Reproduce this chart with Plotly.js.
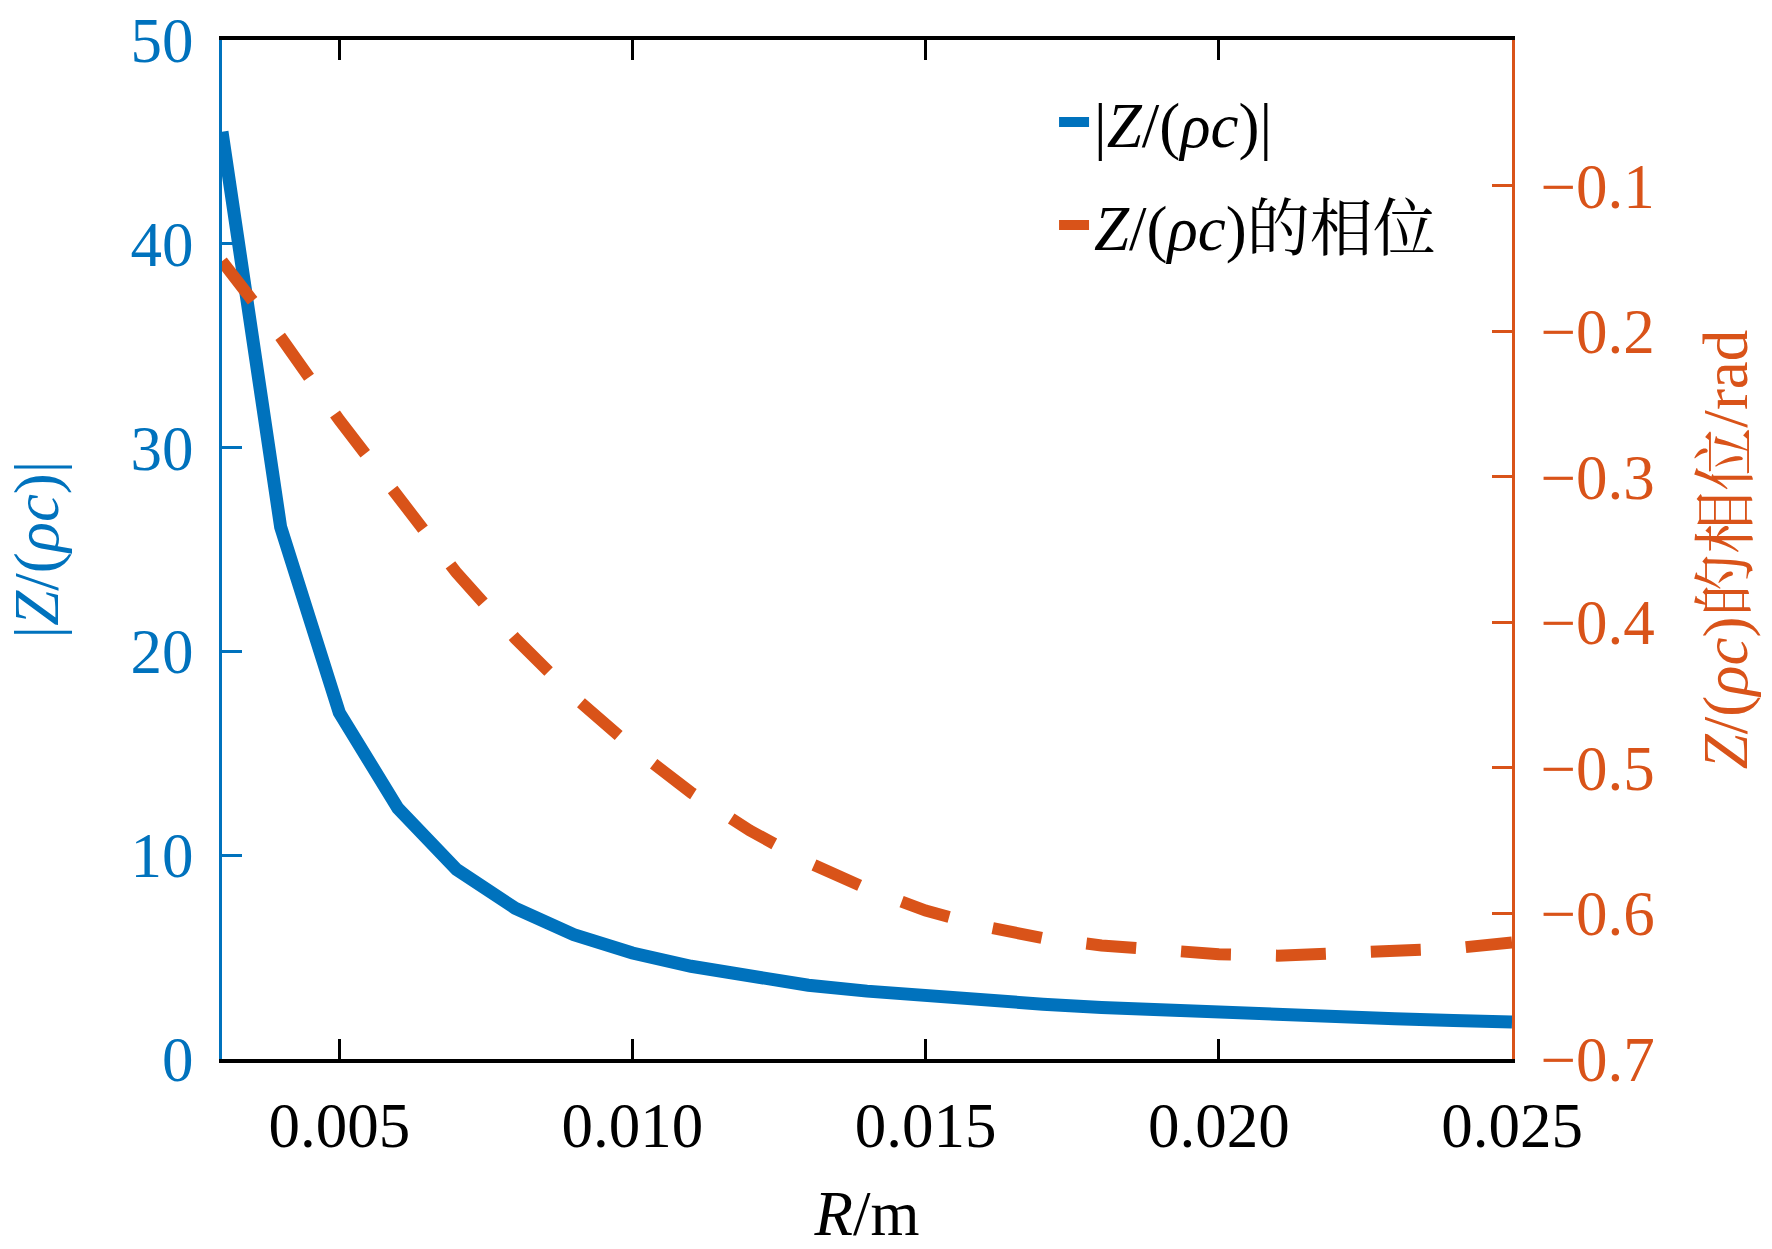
<!DOCTYPE html>
<html>
<head>
<meta charset="utf-8">
<script src="https://cdn.plot.ly/plotly-3.0.1.min.js"></script>
<style>
  html, body { margin: 0; padding: 0; background: #fff; }
  #chart { width: 1772px; height: 1249px; }
</style>
</head>
<body>
<div id="chart"></div>
<script>
// radius R in metres
const radius = [0.003, 0.004, 0.005, 0.006, 0.007, 0.008, 0.009, 0.010, 0.011, 0.012,
    0.013, 0.014, 0.015, 0.016, 0.017, 0.018, 0.019, 0.020, 0.021, 0.022,
    0.023, 0.024, 0.025]

// |Z/(rho c)|
const magnitude = [45.5, 26.1, 17.0, 12.3, 9.3, 7.4, 6.1, 5.2, 4.55, 4.02,
    3.62, 3.33, 3.08, 2.87, 2.69, 2.53, 2.39, 2.27, 2.16, 2.06,
    1.97, 1.89, 1.82]

// phase of Z/(rho c), rad
const phase = [-0.152, -0.204, -0.261, -0.315, -0.366, -0.411, -0.451, -0.486, -0.517, -0.543,
    -0.565, -0.583, -0.598, -0.609, -0.617, -0.622, -0.626, -0.628, -0.629, -0.628,
    -0.627, -0.624, -0.620]

const xTicks = [0.005, 0.010, 0.015, 0.020, 0.025]
const xTickText = ["0.005", "0.010", "0.015", "0.020", "0.025"]
const magTicks = [0, 10, 20, 30, 40, 50]
const phaseTicks = [-0.7, -0.6, -0.5, -0.4, -0.3, -0.2, -0.1]

const blue = "#0072BD"
const orange = "#D95319"
const fontFamily = "'Liberation Serif', 'Times New Roman', 'Noto Serif CJK SC', 'Noto Sans CJK SC', serif"
const fontSize = 63

const traces = [
    {
        x: radius,
        y: magnitude,
        type: "scatter",
        mode: "lines",
        name: "|<i>Z</i>/(<i>ρc</i>)|",
        legendgroup: "mag",
        line: {color: blue, width: 13},
        yaxis: "y"
    },
    {
        x: radius,
        y: phase,
        type: "scatter",
        mode: "lines",
        name: "<i>Z</i>/(<i>ρc</i>)的相位",
        legendgroup: "phase",
        line: {color: orange, width: 12, dash: "50px,45px"},
        yaxis: "y2"
    }
]

const layout = {
    width: 1772,
    height: 1249,
    margin: {l: 222, r: 260, t: 40, b: 190},
    paper_bgcolor: "#fff",
    plot_bgcolor: "#fff",
    font: {family: fontFamily, size: fontSize, color: "#000"},
    showlegend: true,
    legend: {
        x: 0.645,
        xanchor: "left",
        y: 0.966,
        yanchor: "top",
        bgcolor: "rgba(0,0,0,0)",
        borderwidth: 0,
        traceorder: "grouped",
        tracegroupgap: 18,
        font: {family: fontFamily, size: fontSize, color: "#000"}
    },
    xaxis: {
        range: [0.003, 0.025],
        tickvals: xTicks,
        ticktext: xTickText,
        ticks: "inside",
        ticklen: 20,
        tickwidth: 3,
        tickcolor: "#000",
        showline: true,
        linecolor: "#000",
        linewidth: 4,
        mirror: "ticks",
        showgrid: false,
        zeroline: false,
        ticklabelstandoff: 8,
        ticklabeloverflow: "allow",
        tickfont: {family: fontFamily, size: fontSize, color: "#000"},
        title: {
            text: "<i>R</i>/m",
            font: {family: fontFamily, size: fontSize, color: "#000"},
            standoff: 38
        }
    },
    yaxis: {
        range: [0, 50],
        tickvals: magTicks,
        ticks: "inside",
        ticklen: 20,
        tickwidth: 3,
        tickcolor: blue,
        showline: true,
        linecolor: blue,
        linewidth: 3,
        mirror: false,
        showgrid: false,
        zeroline: false,
        ticklabelstandoff: 13,
        ticklabeloverflow: "allow",
        tickfont: {family: fontFamily, size: fontSize, color: blue},
        title: {
            text: "|<i>Z</i>/(<i>ρc</i>)|",
            font: {family: fontFamily, size: fontSize, color: blue},
            standoff: 52
        }
    },
    yaxis2: {
        overlaying: "y",
        side: "right",
        range: [-0.7, 0],
        tickvals: phaseTicks,
        ticks: "inside",
        ticklen: 20,
        tickwidth: 3,
        tickcolor: orange,
        showline: true,
        linecolor: orange,
        linewidth: 3,
        showgrid: false,
        zeroline: false,
        ticklabelstandoff: 13,
        ticklabeloverflow: "allow",
        tickfont: {family: fontFamily, size: fontSize, color: orange},
        title: {
            text: "<i>Z</i>/(<i>ρc</i>)的相位/rad",
            font: {family: fontFamily, size: fontSize, color: orange},
            standoff: 50
        }
    }
}

Plotly.newPlot("chart", traces, layout, {staticPlot: true, displayModeBar: false})
</script>
</body>
</html>
